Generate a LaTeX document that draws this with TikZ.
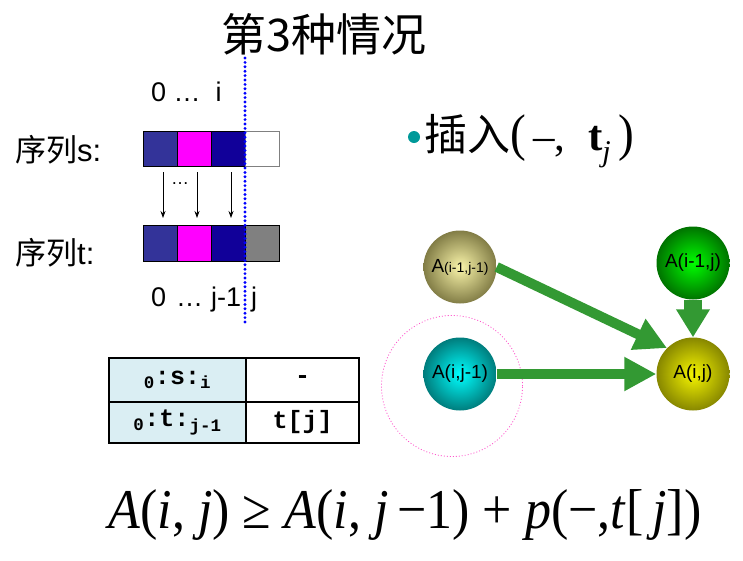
\documentclass[tikz,border=0pt]{standalone}
\usepackage{fontspec}
\setmainfont{Liberation Serif}
\setsansfont{Liberation Sans}
\newfontfamily\cjk{Noto Sans CJK SC}
\newfontfamily\monob{Liberation Mono}
\usetikzlibrary{arrows.meta}
\definecolor{cA}{HTML}{333399}
\definecolor{cB}{HTML}{FF00FF}
\definecolor{cC}{HTML}{110099}
\definecolor{cG}{HTML}{808080}
\definecolor{tbl}{HTML}{DAEEF3}
\definecolor{arr}{HTML}{339933}
\definecolor{teal}{HTML}{009999}
\definecolor{pinkdot}{HTML}{FF55CC}
\definecolor{dotblue}{HTML}{0000FF}
\tikzset{
  cell/.style={draw=black, line width=0.8pt, minimum width=34pt, minimum height=35pt, inner sep=0pt, anchor=north west},
  lbl/.style={font=\sffamily\fontsize{31}{31}\selectfont, inner sep=0pt},
  idx/.style={font=\sffamily\fontsize{27}{27}\selectfont, inner sep=0pt},
  ball/.style={circle, minimum size=73pt, inner sep=0pt, font=\sffamily\fontsize{19}{19}\selectfont},
  garrow/.style={draw=arr, line width=10pt, -{Triangle[length=32pt,width=32pt]}},
  tcell/.style={draw=black, line width=2pt, minimum width=137pt, minimum height=44pt, inner sep=0pt, anchor=north west, font=\monob\bfseries\fontsize{25}{25}\selectfont},
}
\begin{document}
\begin{tikzpicture}[x=1pt,y=-1pt]
\useasboundingbox (0,0) rectangle (743,560);
% title
\node[font=\cjk\fontsize{45}{45}\selectfont, inner sep=0pt] (title) at (324,34) {第3种情况};
% index labels
\node[idx, anchor=base west] (top) at (151,101) {0 \ldots\ \ i};
\node[lbl, anchor=base west] (ls) at (15,161) {{\cjk 序列}s:};
\node[lbl, anchor=base west] (lt) at (15,264) {{\cjk 序列}t:};
% s boxes
\node[cell, fill=cA] (s1) at (143,131) {};
\node[cell, fill=cB] (s2) at (177,131) {};
\node[cell, fill=cC] (s3) at (211,131) {};
\node[cell, fill=white, draw=cG] (s4) at (245,131) {};
% t boxes
\node[cell, fill=cA, minimum height=36pt] (t1) at (143,225) {};
\node[cell, fill=cB, minimum height=36pt] (t2) at (177,225) {};
\node[cell, fill=cC, minimum height=36pt] (t3) at (211,225) {};
\node[cell, fill=cG, minimum height=36pt] (t4) at (245,225) {};
% arrows
\coordinate (a1s) at (163,172); \coordinate (a1e) at (163,218);
\coordinate (a2s) at (197,172); \coordinate (a2e) at (197,218);
\coordinate (a3s) at (231,172); \coordinate (a3e) at (231,218);
\draw[line width=0.8pt, -{Stealth[length=7pt,width=5pt]}] (a1s) -- (a1e);
\draw[line width=0.8pt, -{Stealth[length=7pt,width=5pt]}] (a2s) -- (a2e);
\draw[line width=0.8pt, -{Stealth[length=7pt,width=5pt]}] (a3s) -- (a3e);
\node[idx, font=\sffamily\fontsize{18}{18}\selectfont] (dots) at (180,184) {\ldots};
% bottom index
\node[idx, anchor=base west] (b0) at (151,306) {0};
\node[idx, anchor=base west] (bd) at (176,306) {\ldots};
\node[idx, anchor=base west] (bj1) at (211,306) {j-1};
\node[idx, anchor=base west] (bj) at (251,306) {j};
% dotted line
\coordinate (d1) at (245,58); \coordinate (d2) at (245,326);
\draw[dotblue, line width=3.2pt, line cap=round, dash pattern=on 0pt off 4.4pt] (d1) -- (d2);
% table
\node[tcell, fill=tbl] (c11) at (108,357) {\textsubscript{0}:s:\textsubscript{i}};
\node[tcell, fill=white, minimum width=113pt] (c12) at (245,357) {-};
\node[tcell, fill=tbl, minimum height=41pt] (c21) at (108,401) {\textsubscript{0}:t:\textsubscript{j-1}};
\node[tcell, fill=white, minimum width=113pt, minimum height=41pt] (c22) at (245,401) {t[j]};
% bullet text
\node[circle, fill=teal, minimum size=12pt, inner sep=0pt] (bul) at (414,137) {};
\node[anchor=base west, inner sep=0pt, font=\fontsize{43}{43}\selectfont] (ins) at (424,150) {{\cjk 插入}\scalebox{1.1}[1.2]{(}\,–,\; \textbf{t}\textsubscript{\textit{j}}\,\scalebox{1.1}[1.2]{)}};
% magenta dotted circle
\node[circle, draw=pinkdot, line width=0.8pt, dash pattern=on 1pt off 2pt, minimum size=141pt, inner sep=0pt] (hl) at (452,386) {};
% balls
\node[ball, inner color={rgb,255:red,250;green,245;blue,170}, outer color={rgb,255:red,130;green,125;blue,70}] (n1) at (460,267) {A{\fontsize{14}{14}\selectfont(i-1,j-1)}};
\node[ball, inner color={rgb,255:red,0;green,255;blue,0}, outer color={rgb,255:red,0;green,115;blue,0}] (n2) at (693,263) {A(i-1,j)};
\node[ball, inner color={rgb,255:red,0;green,255;blue,255}, outer color={rgb,255:red,0;green,125;blue,125}] (n3) at (460,374) {A(i,j-1)};
\node[ball, inner color={rgb,255:red,245;green,245;blue,0}, outer color={rgb,255:red,135;green,135;blue,0}] (n4) at (693,374) {A(i,j)};
\draw[garrow] (n1.east) -- (n4.north west);
\draw[garrow] (n3) -- (n4);
\draw[garrow, line width=18pt, -{Triangle[length=28pt,width=32pt]}] (n2) -- (n4);
% formula
\node[inner sep=0pt, font=\fontsize{52}{52}\selectfont] (f) at (405,515) {\scalebox{1}[1.08]{\textit{A}(\textit{i}, \textit{j}) ≥ \textit{A}(\textit{i}, \textit{j}\,−1) + \textit{p}(−,\textit{t}[\,\textit{j}])}};
\end{tikzpicture}
\end{document}
